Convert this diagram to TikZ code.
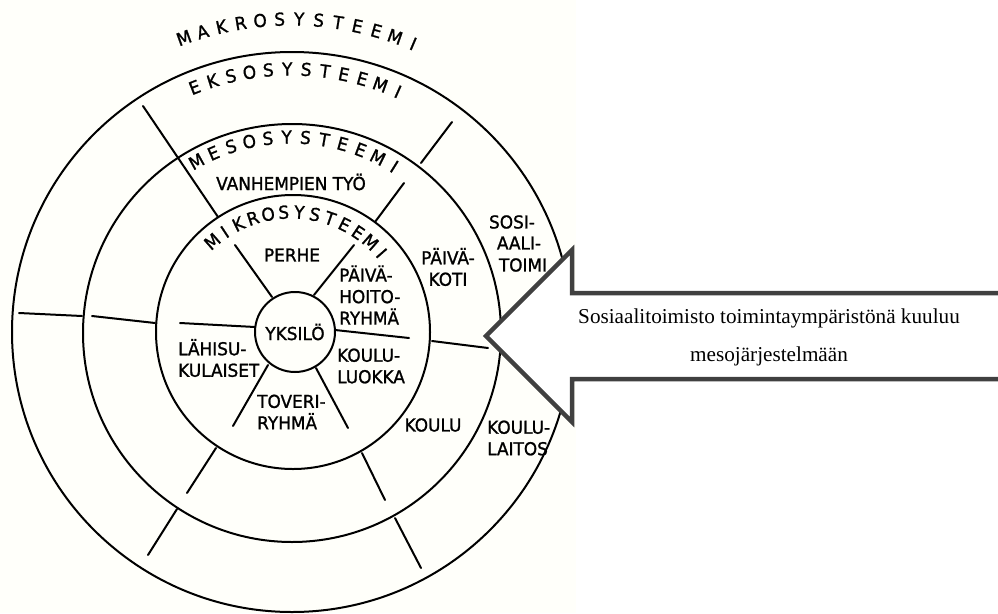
\documentclass[tikz,border=0pt]{standalone}
\usepackage{fontspec}
\setmainfont{DejaVu Sans}
\newfontfamily\din[FakeBold=1.2,FakeStretch=0.95]{DejaVu Sans}
\newfontfamily\capfont{Liberation Serif}
\usetikzlibrary{calc}
\definecolor{arrowgray}{RGB}{64,64,64}
\definecolor{paper}{RGB}{255,255,250}
\begin{document}
\begin{tikzpicture}[x=1pt,y=-1pt,
  ring/.style={line width=2pt},
  spoke/.style={line width=2pt, line cap=round},
  lbl/.style={font=\din\fontsize{17.8}{21.5}\selectfont, inner sep=0pt},
  arcletter/.style={font=\din\fontsize{17.8}{21}\selectfont, inner sep=0pt},
  caption/.style={font=\capfont\fontsize{21.2}{24}\selectfont, inner sep=0pt, anchor=base},
  bigarrow/.style={line width=4.5pt, draw=arrowgray, fill=white, line join=miter}
]
\useasboundingbox (0,0) rectangle (998,613);
\fill[white] (0,0) rectangle (998,613);
\fill[paper] (0,0) rectangle (576,613);

\coordinate (O) at (291,332);
\coordinate (Oout) at (292,332);
\coordinate (Omeso) at (292,333);
\coordinate (Omikro) at (293,332);
% rings
\draw[ring] (Oout) circle[radius=280];
\draw[ring] (Omeso) circle[radius=209];
\draw[ring] (Omikro) circle[radius=137];

% spokes
\draw[spoke] (143,106) -- (218,217);
\draw[spoke] (452,122) -- (421,163);
\draw[spoke] (404,183) -- (375,222);
\draw[spoke] (235,245) -- (272,297);
\draw[spoke] (354,245) -- (314,295);
\draw[spoke] (19,313) -- (82,316);
\draw[spoke] (92,316) -- (155,323);
\draw[spoke] (180,323) -- (255,327);
\draw[spoke] (335,330) -- (409,338);
\draw[spoke] (432,341) -- (488,348);
\draw[spoke] (268,365) -- (233,426);
\draw[spoke] (316,368) -- (348,428);
\draw[spoke] (216,448) -- (187,493);
\draw[spoke] (362,453) -- (385,500);
\draw[spoke] (177,509) -- (148,555);
\draw[spoke] (395,518) -- (421,568);

% arc titles
\foreach \ch [count=\i] in {M,A,K,R,O,S,Y,S,T,E,E,M,I}{
  \pgfmathsetmacro\ang{110-(\i-1)*43/12}
  \pgfmathsetmacro\rot{\ang-90}
  \node[arcletter, rotate=\rot] (makro\i) at ($(O)+(-\ang:313)$) {\ch};
}
\foreach \ch [count=\i] in {E,K,S,O,S,Y,S,T,E,E,M,I}{
  \pgfmathsetmacro\ang{111.5-(\i-1)*45.5/11}
  \pgfmathsetmacro\rot{\ang-90}
  \node[arcletter, rotate=\rot] (ekso\i) at ($(O)+(-\ang:263)$) {\ch};
}
\foreach \ch [count=\i] in {M,E,S,O,S,Y,S,T,E,E,M,I}{
  \pgfmathsetmacro\ang{119-(\i-1)*61/11}
  \pgfmathsetmacro\rot{\ang-90}
  \node[arcletter, rotate=\rot] (meso\i) at ($(O)+(-\ang:195)$) {\ch};
}
\foreach \ch [count=\i] in {M,I,K,R,O,S,Y,S,T,E,E,M,I}{
  \pgfmathsetmacro\ang{131-(\i-1)*90/12}
  \pgfmathsetmacro\rot{\ang-90}
  \node[arcletter, rotate=\rot] (mikro\i) at ($(O)+(-\ang:120)$) {\ch};
}

% labels
\node[lbl, draw, circle, minimum size=80pt, line width=2pt, fill=paper] (yksilo) at (295,332) {YKSILÖ};
\node[lbl] (perhe) at (292,255) {PERHE};
\node[lbl, align=left, anchor=west] (pvhr) at (339,295) {PÄIVÄ-\\HOITO-\\RYHMÄ};
\node[lbl, align=left, anchor=west] (lahi) at (178,358) {LÄHISU-\\KULAISET};
\node[lbl, align=left, anchor=west] (luokka) at (337,366) {KOULU-\\LUOKKA};
\node[lbl, align=left, anchor=west] (toveri) at (257,412) {TOVERI-\\RYHMÄ};
\node[lbl] (vanh) at (291,182) {VANHEMPIEN TYÖ};
\node[lbl, align=center] (pkoti) at (448,267) {PÄIVÄ-\\KOTI};
\node[lbl] (sosi1) at (512,222) {SOSI-};
\node[lbl] (sosi2) at (519,243) {AALI-};
\node[lbl] (sosi3) at (523,265) {TOIMI};
\node[lbl] (koulu) at (433,425) {KOULU};
\node[lbl, align=left, anchor=west] (laitos) at (487,438) {KOULU-\\LAITOS};

% big arrow
\draw[bigarrow] (1010,293) -- (572,293) -- (572,250) -- (486,336) -- (572,422) -- (572,379) -- (1010,379);
\node[caption] (cap1) at (769,323) {Sosiaalitoimisto toimintaympäristönä kuuluu};
\node[caption] (cap2) at (769,361) {mesojärjestelmään};
\end{tikzpicture}
\end{document}
